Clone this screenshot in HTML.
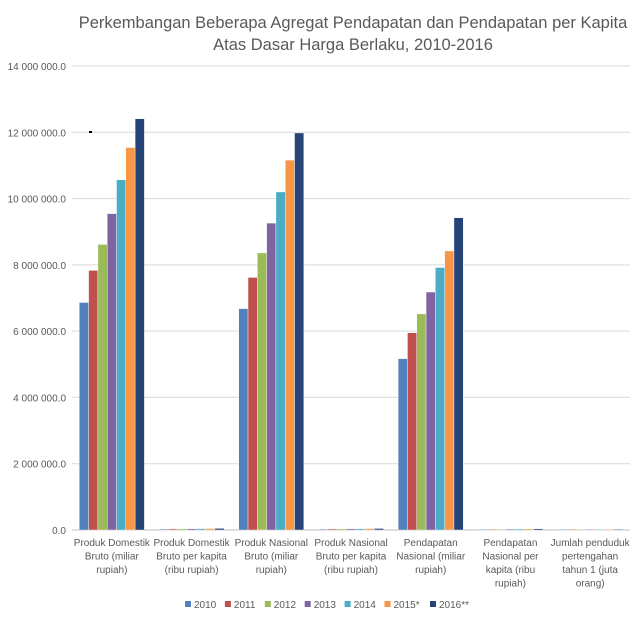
<!DOCTYPE html>
<html><head><meta charset="utf-8"><style>
body{margin:0;background:#fff;}
svg text{font-family:"Liberation Sans",sans-serif;fill:#595959;}
</style></head><body>
<svg id="chart" width="640" height="622" xmlns="http://www.w3.org/2000/svg">
<rect width="640" height="622" fill="#fff"/>
<text x="353" y="28" text-anchor="middle" font-size="16.5">Perkembangan Beberapa Agregat Pendapatan dan Pendapatan per Kapita</text>
<text x="353" y="50" text-anchor="middle" font-size="16.5">Atas Dasar Harga Berlaku, 2010-2016</text>
<g id="grid"></g><g id="bars"></g><g id="xlabels"></g><g id="legend"></g>
<rect x="89" y="131" width="3" height="2" fill="#000"/>
</svg>
<script>
const categories=[["Produk Domestik","Bruto (miliar","rupiah)"],["Produk Domestik","Bruto per kapita","(ribu rupiah)"],["Produk Nasional","Bruto (miliar","rupiah)"],["Produk Nasional","Bruto per kapita","(ribu rupiah)"],["Pendapatan","Nasional (miliar","rupiah)"],["Pendapatan","Nasional per","kapita (ribu","rupiah)"],["Jumlah penduduk","pertengahan","tahun 1 (juta","orang)"]];
const seriesNames=["2010","2011","2012","2013","2014","2015*","2016**"];
const colors=["#4f81bd","#c0504d","#9bbb59","#8064a2","#4bacc6","#f79646","#264478"];
const s2010=[6864133,28778,6680000,28200,5170000,23000,238];
const s2011=[7831726,32364,7620000,31600,5950000,24800,241];
const s2012=[8615705,35105,8360000,34100,6520000,26800,245];
const s2013=[9546134,38366,9260000,37200,7180000,28900,248];
const s2014=[10569705,41916,10200000,40500,7920000,31400,252];
const s2015=[11540790,45120,11160000,43600,8420000,33300,255];
const s2016=[12406774,47963,11980000,46100,9420000,36300,258];
const series=[s2010,s2011,s2012,s2013,s2014,s2015,s2016];
const yTicks=[0,2000000,4000000,6000000,8000000,10000000,12000000,14000000];
const yTickLabels=["0.0","2 000 000.0","4 000 000.0","6 000 000.0","8 000 000.0","10 000 000.0","12 000 000.0","14 000 000.0"];
const NS="http://www.w3.org/2000/svg";
const x0=72,x1=630,y0=530,y1=66,ymax=14000000;
const y=v=>y0-(v/ymax)*(y0-y1);
const cw=(x1-x0)/categories.length,bw=9.3;
function mk(tag,attrs,parent,text){const e=document.createElementNS(NS,tag);for(const k in attrs)e.setAttribute(k,attrs[k]);if(text!==undefined)e.textContent=text;parent.appendChild(e);return e;}
const grid=document.getElementById('grid');
yTicks.forEach((t,i)=>{
 const l=mk('line',{x1:x0,x2:x1,y1:y(t),y2:y(t),stroke:i===0?'#bfbfbf':'#d9d9d9','stroke-width':1},grid);
 
 
 const tx=mk('text',{x:66,y:y(t)+4,'text-anchor':'end','font-size':10},grid,yTickLabels[i]);
 
 
});
const bars=document.getElementById('bars');
categories.forEach((c,ci)=>{
 const gx=x0+ci*cw+(cw-bw*7)/2;
 series.forEach((s,si)=>{
  const v=s[ci];const h=Math.max(y0-y(v),0.8);
  const r=mk('rect',{x:gx+si*bw,y:y0-h,width:bw,height:h,fill:colors[si],stroke:'#ffffff','stroke-width':0.4},bars);
  
  
 });
});
const xl=document.getElementById('xlabels');
categories.forEach((c,ci)=>{
 const cx=x0+ci*cw+cw/2;
 const t=mk('text',{x:cx,y:546,'text-anchor':'middle','font-size':10},xl);
 
 
 c.forEach((line,li)=>{mk('tspan',{x:cx,dy:li===0?0:13.5},t,line);});
});
const lg=document.getElementById('legend');
let lx=185;
seriesNames.forEach((n,i)=>{
 const g=mk('g',{},lg);
 
 
 mk('rect',{x:lx,y:601,width:6,height:6,fill:colors[i]},g);
 const w=n.length*5.6+17.5;
 mk('text',{x:lx+9,y:608,'font-size':10},g,n);
 lx+=w;
});
</script>
</body></html>
